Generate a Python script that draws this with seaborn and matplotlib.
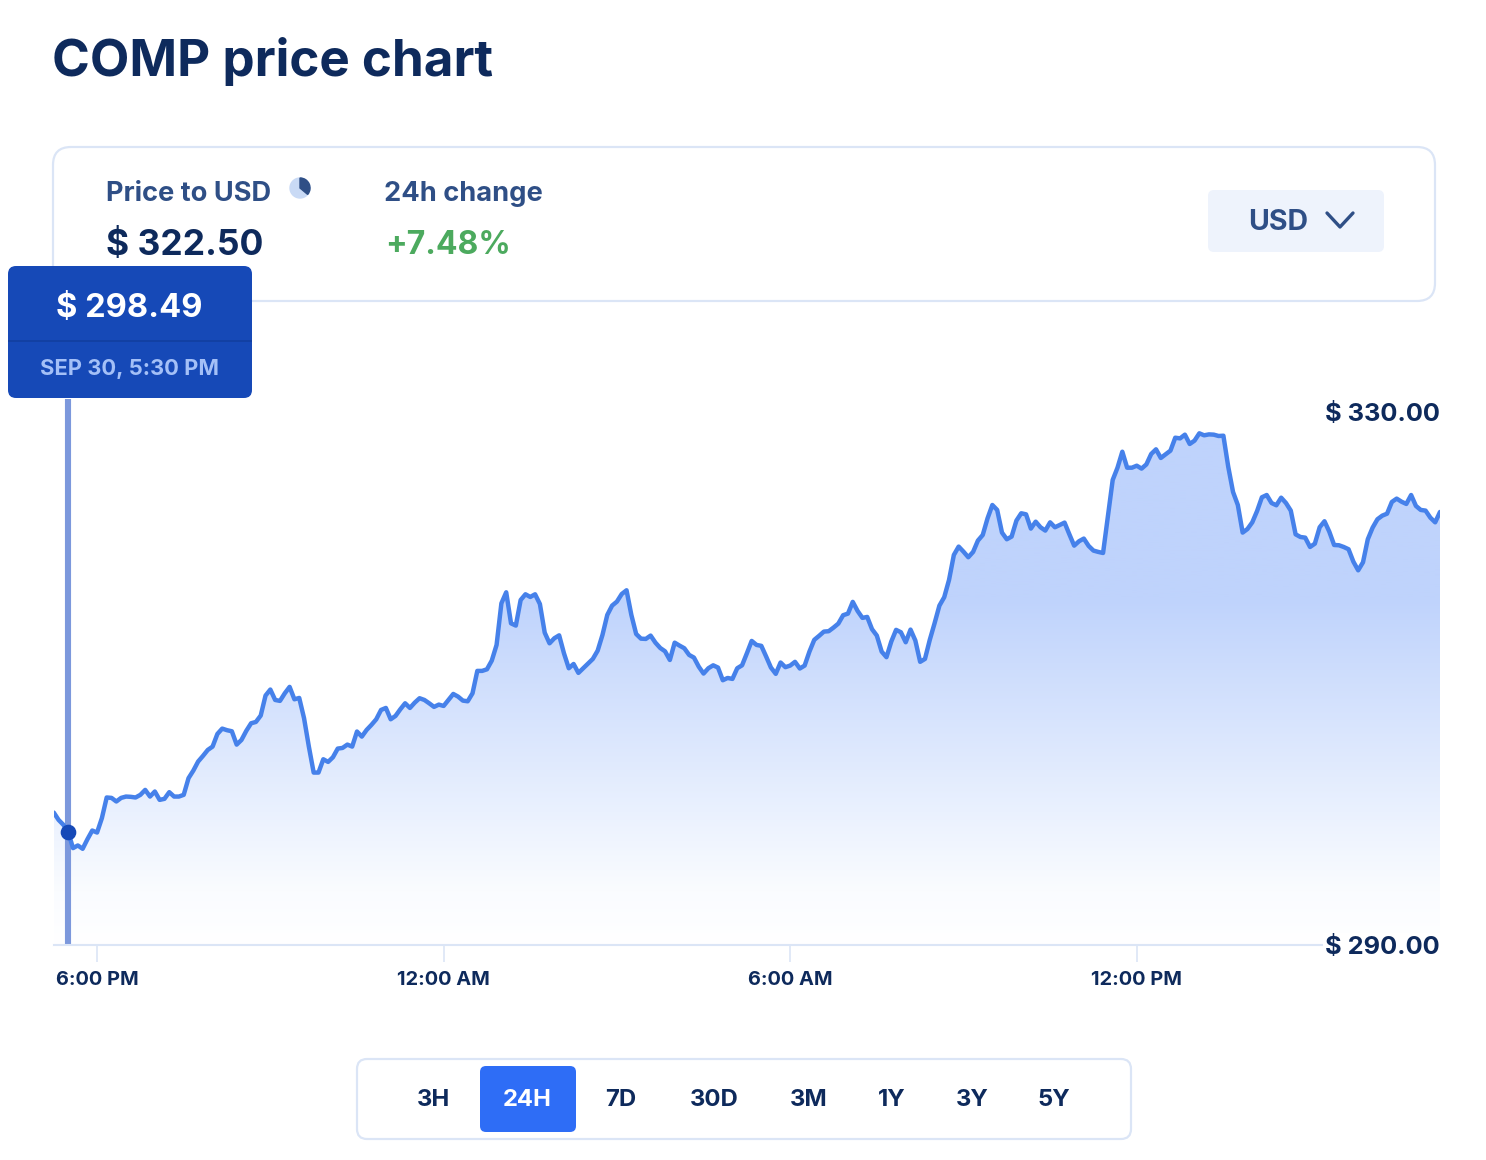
import pandas as pd
import numpy as np
import matplotlib.pyplot as plt
import seaborn as sns
from matplotlib.colors import LinearSegmentedColormap
from matplotlib.patches import FancyBboxPatch, Circle, Wedge

# 5 minute prices
prices_a = [
    299.94, 299.39, 299.02, 298.49, 297.27, 297.47, 297.22, 297.94, 298.59, 298.44,
    299.52, 301.07, 301.04, 300.77, 301.04, 301.14, 301.12, 301.07, 301.27, 301.64,
    301.14, 301.52, 300.89, 300.97, 301.47, 301.14, 301.14, 301.27, 302.52, 303.09,
    303.77, 304.19, 304.64, 304.89, 305.84, 306.24, 306.12, 306.04, 305.04, 305.39,
    306.07, 306.64, 306.74, 307.22, 308.72, 309.17, 308.39, 308.32, 308.89, 309.37,
    308.44, 308.54, 307.02, 304.89, 302.94, 302.94, 303.94, 303.74, 304.09, 304.74,
    304.79, 305.04, 304.89, 306.02, 305.64, 306.14, 306.52, 306.94, 307.64, 307.79,
    306.94, 307.19, 307.69,
]
prices_b = [
    308.14, 307.79, 308.19, 308.52, 308.39, 308.14, 307.87, 308.04, 307.94, 308.39,
    308.84, 308.64, 308.34, 308.29, 308.89, 310.57, 310.57, 310.69, 311.34, 312.52,
    315.64, 316.47, 314.14, 313.97, 315.89, 316.32, 316.12, 316.32, 315.59, 313.44,
    312.64, 313.02, 313.24, 311.89, 310.77, 311.09, 310.42, 310.77, 311.12, 311.47,
    312.09, 313.27, 314.77, 315.47, 315.77, 316.34, 316.62, 314.77, 313.34, 312.99,
    312.97, 313.22, 312.69, 312.29, 312.04, 311.39, 312.69, 312.47, 312.27, 311.77,
    311.57, 310.89, 310.37, 310.77, 310.99, 310.82, 309.87, 310.04, 309.97, 310.77,
    310.99, 311.89, 312.82,
]
prices_c = [
    312.52, 312.45, 311.65, 310.82, 310.35, 311.20, 310.85, 310.97, 311.25, 310.75,
    310.97, 312.02, 312.90, 313.20, 313.52, 313.55, 313.82, 314.12, 314.75, 314.87,
    315.75, 315.07, 314.55, 314.62, 313.70, 313.22, 312.02, 311.60, 312.77, 313.65,
    313.47, 312.72, 313.67, 312.85, 311.25, 311.47, 312.90, 314.15, 315.47, 316.10,
    317.40, 319.27, 319.90, 319.52, 319.10, 319.50, 320.35, 320.77, 322.02, 323.02,
    322.65, 320.95, 320.45, 320.65, 321.85, 322.40, 322.32, 321.25, 321.77, 321.35,
    321.10, 321.72, 321.35, 321.52, 321.70, 320.82, 319.97, 320.30, 320.50, 319.95,
    319.60, 319.50,
]
prices_d = [
    319.42, 322.15, 324.90, 325.82, 327.02, 325.82, 325.82, 325.97, 325.75, 326.07,
    326.85, 327.20, 326.55, 326.82, 327.10, 328.07, 328.02, 328.30, 327.60, 327.85,
    328.40, 328.25, 328.32, 328.30, 328.20, 328.22, 325.90, 324.00, 323.02, 320.95,
    321.22, 321.72, 322.57, 323.60, 323.77, 323.17, 323.00, 323.57, 323.17, 322.60,
    320.82, 320.62, 320.57, 319.87, 320.12, 321.35, 321.80, 321.02, 320.02, 320.00,
    319.87, 319.70, 318.77, 318.12, 318.72, 320.45, 321.32, 321.95, 322.22, 322.37,
    323.25, 323.50, 323.27, 323.10, 323.77, 322.95, 322.65, 322.60, 322.07, 321.72,
    322.50,
]
prices = prices_a + prices_b + prices_c + prices_d

tick_times = ["2021-09-30 18:00", "2021-10-01 00:00", "2021-10-01 06:00", "2021-10-01 12:00"]
tick_labels = ["6:00 PM", "12:00 AM", "6:00 AM", "12:00 PM"]
y_ticks = [290, 330]
y_labels = ["$ 290.00", "$ 330.00"]
range_labels = ["3H", "24H", "7D", "30D", "3M", "1Y", "3Y", "5Y"]
hover_time = "2021-09-30 17:30"
hover_price = 298.49

NAVY = "#0e2a5c"
SLATE = "#2f4f86"
BORDER = "#dbe5f6"
FONT = ["Inter", "DejaVu Sans"]

sns.set_theme(style="white")
plt.rcParams["font.family"] = FONT

df = pd.DataFrame({
    "time": pd.date_range("2021-09-30 17:15", periods=len(prices), freq="5min"),
    "price": prices,
})

fig = plt.figure(figsize=(14.86, 11.6), dpi=100)
W, H = 1486, 1160
ax = fig.add_axes([53.75 / W, 1 - 945 / H, (1440 - 53.75) / W, (945 - 412) / H])
ax.set_axisbelow(False)

# gradient under the line, clipped to the area shape
area = ax.fill_between(df["time"], df["price"], 290, facecolor="none", edgecolor="none")
t0, t1 = plt.matplotlib.dates.date2num([df["time"].iloc[0], df["time"].iloc[-1]])
grad = ax.imshow(np.linspace(1, 0, 256).reshape(-1, 1), cmap=LinearSegmentedColormap.from_list(
    "fade", [(0, "#ffffff"), (0.1, "#fafcff"), (0.65, "#bfd3fc"), (1, "#bfd3fc")]),
    extent=[t0, t1, 290, 330], aspect="auto", vmin=0, vmax=1, zorder=1)
grad.set_clip_path(area.get_paths()[0], transform=ax.transData)

sns.lineplot(data=df, x="time", y="price", ax=ax, color="#4681ea", linewidth=3.2, zorder=3)

ax.set_xlim(df["time"].iloc[0], df["time"].iloc[-1])
ax.set_ylim(290, 330)
ax.set_xlabel("")
ax.set_ylabel("")
ax.patch.set_alpha(0)

sns.despine(ax=ax, left=True, right=True, top=True)
ax.spines["bottom"].set_color(BORDER)
ax.spines["bottom"].set_linewidth(1.5)

ax.set_xticks(pd.to_datetime(tick_times))
ax.set_xticklabels(tick_labels, fontsize=14.4, fontweight="bold", color=NAVY)
ax.tick_params(axis="x", length=12, width=1.2, color=BORDER, pad=7, bottom=True)

ax.yaxis.tick_right()
ax.set_yticks(y_ticks)
ax.set_yticklabels(y_labels, fontsize=18.3, fontweight="bold", color=NAVY, ha="right",
                   bbox=dict(facecolor="white", edgecolor="none", pad=2))
ax.tick_params(axis="y", length=0, pad=0)

# hover marker
hover_x = pd.Timestamp(hover_time)
ax.vlines(hover_x, 290, 331, color="#7c98dc", linewidth=4.4, zorder=2, clip_on=False)
ax.scatter([hover_x], [hover_price], s=105, color="#1649b7", zorder=4, clip_on=False)

# page furniture, in pixels
ui = fig.add_axes([0, 0, 1, 1], zorder=5)
ui.set_xlim(0, W)
ui.set_ylim(H, 0)
ui.axis("off")


def box(x0, y0, x1, y1, r, face="none", edge="none", lw=0, z=1):
    ui.add_patch(FancyBboxPatch((x0 + r, y0 + r), x1 - x0 - 2 * r, y1 - y0 - 2 * r,
                                boxstyle="round,pad=%d,rounding_size=%d" % (r, r),
                                facecolor=face, edgecolor=edge, linewidth=lw, zorder=z))


ui.text(52, 62, "COMP price chart", fontsize=36.8, fontweight="bold", color=NAVY, va="center")

box(53, 147, 1435, 301, 18, face="white", edge=BORDER, lw=1.6)
ui.text(106, 194, "Price to USD", fontsize=19.6, fontweight="bold", color=SLATE, va="center")
ui.add_patch(Circle((300, 188), 10, color="#c9daf5", zorder=2))
ui.add_patch(Wedge((300, 188), 10, -90, 40, color=SLATE, zorder=3))
ui.text(106, 246, "$ 322.50", fontsize=25.5, fontweight="bold", color=NAVY, va="center")
ui.text(384, 194, "24h change", fontsize=19.6, fontweight="bold", color=SLATE, va="center")
ui.text(385, 246, "+7.48%", fontsize=23, fontweight="bold", color="#4caa5e", va="center")

box(1208, 190, 1384, 252, 6, face="#eef3fc")
ui.text(1278, 223, "USD", fontsize=20.5, fontweight="bold", color=SLATE, va="center", ha="center")
ui.plot([1327, 1340, 1353], [213, 227, 213], color=SLATE, lw=2.4, zorder=3)

box(8, 266, 252, 398, 8, face="#1649b7", z=4)
ui.plot([8, 252], [341, 341], color="#123f9f", lw=1.2, zorder=5, solid_capstyle="butt")
ui.text(129, 308, "$ 298.49", fontsize=23.5, fontweight="bold", color="white", va="center", ha="center", zorder=6)
ui.text(129, 369, "SEP 30, 5:30 PM", fontsize=15.8, fontweight="bold", color="#a4c0f7", va="center", ha="center", zorder=6)

box(357, 1059, 1131, 1139, 10, face="white", edge=BORDER, lw=1.6)
box(480, 1066, 576, 1132, 6, face="#2e6df6", z=2)
button_x = [434, 527, 621, 714, 809, 892, 972, 1054]
for label, x in zip(range_labels, button_x):
    ui.text(x, 1100, label, fontsize=17.2, fontweight="bold", va="center", ha="center", zorder=3,
            color="white" if label == "24H" else NAVY)

fig.savefig("out.png", dpi=100)
